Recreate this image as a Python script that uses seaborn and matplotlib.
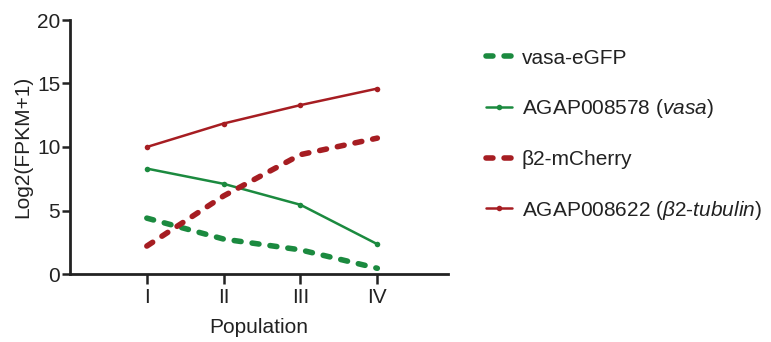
import matplotlib
matplotlib.use("Agg")
import matplotlib.pyplot as plt
import seaborn as sns
import pandas as pd

# values
populations = ["I", "II", "III", "IV"]
vasa_egfp = [4.4, 2.75, 1.9, 0.45]
agap008578 = [8.3, 7.1, 5.45, 2.35]
b2_mcherry = [2.2, 6.15, 9.4, 10.7]
agap008622 = [10.0, 11.85, 13.3, 14.6]

labels = ["vasa-eGFP",
          r"AGAP008578 ($\it{vasa}$)",
          "β2-mCherry",
          r"AGAP008622 ($\it{β2}$-$\it{tubulin}$)"]

green = "#1b8a3f"
red = "#a61d22"

sns.set_style("ticks")
plt.rcParams["font.family"] = ["Liberation Sans", "DejaVu Sans"]
plt.rcParams["mathtext.fontset"] = "custom"
plt.rcParams["mathtext.rm"] = "Liberation Sans"
plt.rcParams["mathtext.it"] = "Liberation Sans:italic"

rows = []
for lab, vals in zip(labels, [vasa_egfp, agap008578, b2_mcherry, agap008622]):
    for i, v in enumerate(vals):
        rows.append({"series": lab, "pos": i + 1, "value": v})
df = pd.DataFrame(rows)

fig = plt.figure(figsize=(7.71, 3.42), dpi=100)
ax = fig.add_axes([70 / 771, 1 - 274 / 342, (448 - 70) / 771, (274 - 20) / 342])

dash = (0, (1.25, 2.0))
styles = [
    dict(color=green, lw=4, ls=dash, marker=None),
    dict(color=green, lw=1.8, ls="-", marker="o", ms=4),
    dict(color=red, lw=4, ls=dash, marker=None),
    dict(color=red, lw=1.8, ls="-", marker="o", ms=4),
]
for lab, st in zip(labels, styles):
    sub = df[df["series"] == lab]
    sns.lineplot(data=sub, x="pos", y="value", ax=ax, label=lab,
                 color=st["color"], linewidth=st["lw"], linestyle=st["ls"],
                 marker=st["marker"], markersize=st.get("ms", 0),
                 markeredgewidth=0, dash_capstyle="round")

ax.set_xlim(0, 4.92)
ax.set_ylim(0, 20)
ax.set_xticks([1, 2, 3, 4])
ax.set_xticklabels(populations)
ax.set_yticks([0, 5, 10, 15, 20])
ax.set_xlabel("Population", fontsize=15, labelpad=8, color="#222222")
ax.set_ylabel("Log2(FPKM+1)", fontsize=15, labelpad=3, color="#222222")
ax.tick_params(axis="both", labelsize=15, width=1.8, length=7,
               color="#222222", labelcolor="#222222")
ax.tick_params(axis="y", length=6, pad=1)
ax.tick_params(axis="x", pad=3)
for s in ["left", "bottom"]:
    ax.spines[s].set_linewidth(2)
    ax.spines[s].set_color("#222222")
sns.despine(ax=ax)

leg = ax.legend(loc="upper left", bbox_to_anchor=(467 / 771, 1 - 30 / 342),
                bbox_transform=fig.transFigure, frameon=False, fontsize=15,
                handlelength=1.25, labelspacing=1.42, handletextpad=0.48)
for t in leg.get_texts():
    t.set_color("#222222")

fig.savefig("out.png", dpi=100)
